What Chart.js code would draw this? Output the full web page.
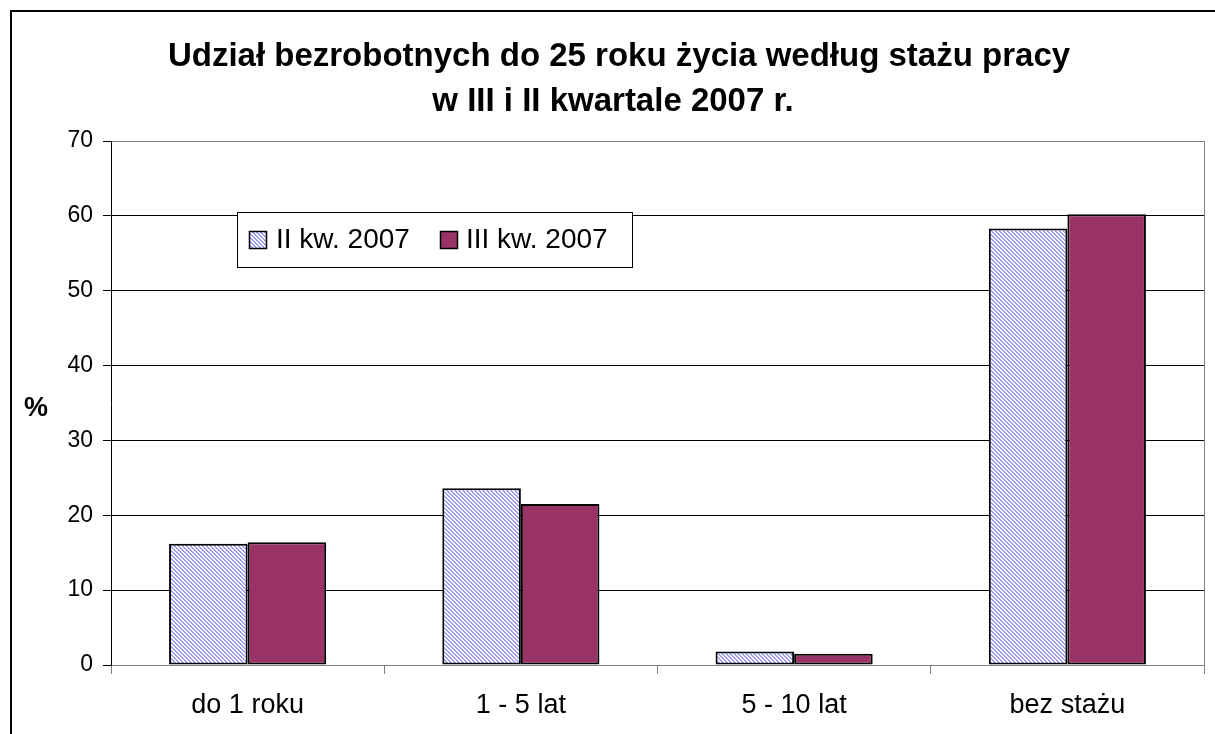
<!DOCTYPE html>
<html>
<head>
<meta charset="utf-8">
<script src="https://cdn.jsdelivr.net/npm/chart.js@4.4.0/dist/chart.umd.min.js"></script>
<style>
  html, body { margin: 0; padding: 0; background: #fff; overflow: hidden; }
  #wrap { position: absolute; left: 0; top: 0; width: 1215px; height: 734px; }
</style>
</head>
<body>
<div id="wrap"><canvas id="chart" width="1215" height="734"></canvas></div>
<script>
const categories = ["do 1 roku", "1 - 5 lat", "5 - 10 lat", "bez stażu"];
const seriesNames = ["II kw. 2007", "III kw. 2007"];
const q2Values = [16.2, 23.6, 1.8, 58.3];
const q3Values = [16.4, 21.5, 1.5, 60.2];
const titleLines = ["Udział bezrobotnych do 25 roku życia według stażu pracy", "w III i II kwartale 2007 r."];
const yTitle = "%";

const FONT = "Arial, 'Liberation Sans'";

// diagonal hatch for II kw.
function makeHatch() {
  const n = 4;
  const c = document.createElement("canvas");
  c.width = n; c.height = n;
  const g = c.getContext("2d");
  g.fillStyle = "#fff";
  g.fillRect(0, 0, n, n);
  g.fillStyle = "#9c9cfa";
  for (let i = 0; i < n; i++) {
    g.fillRect(i, i, 1, 1);
    g.fillRect((i + 1) % n, i, 1, 1);
  }
  return g.createPattern(c, "repeat");
}

const ctx = document.getElementById("chart").getContext("2d");
const hatch = makeHatch();

const decorations = {
  id: "decorations",
  beforeDraw(chart) {
    const c = chart.ctx;
    c.save();
    c.fillStyle = "#fff";
    c.fillRect(0, 0, chart.width, chart.height);
    c.restore();
  },
  afterDraw(chart) {
    const c = chart.ctx;
    const a = chart.chartArea;
    c.save();
    // outer frame
    c.strokeStyle = "#000";
    c.lineWidth = 2;
    c.strokeRect(11, 11, 1230, 750);
    // right border of plot area
    c.strokeStyle = "#808080";
    c.lineWidth = 1;
    c.beginPath();
    c.moveTo(a.right + 0.5, a.top);
    c.lineTo(a.right + 0.5, a.bottom);
    c.stroke();
    // title
    c.fillStyle = "#000";
    c.font = "bold 33px " + FONT;
    c.textAlign = "center";
    c.textBaseline = "middle";
    c.fillText(titleLines[0], 619, 57);
    c.fillText(titleLines[1], 613, 102);
    // y title
    c.font = "bold 27px " + FONT;
    c.fillText(yTitle, 36, 409);
    // legend box
    const lx = 237, ly = 212, lw = 395, lh = 55;
    c.fillStyle = "#fff";
    c.fillRect(lx, ly, lw, lh);
    c.strokeStyle = "#000";
    c.lineWidth = 1;
    c.strokeRect(lx + 0.5, ly + 0.5, lw, lh);
    c.font = "28px " + FONT;
    c.textAlign = "left";
    const items = [
      { x: 249, tx: 276, fill: hatch, label: seriesNames[0] },
      { x: 440, tx: 466, fill: "#993366", label: seriesNames[1] }
    ];
    items.forEach(it => {
      c.fillStyle = it.fill;
      c.fillRect(it.x, 231, 17, 17);
      c.strokeStyle = "#000";
      c.lineWidth = 1.5;
      c.strokeRect(it.x + 0.5, 231.5, 17, 17);
      c.fillStyle = "#000";
      c.fillText(it.label, it.tx, 240);
    });
    c.restore();
  }
};

new Chart(ctx, {
  type: "bar",
  data: {
    labels: categories,
    datasets: [
      { label: seriesNames[0], data: q2Values, backgroundColor: hatch, borderColor: "#000", borderWidth: 2, borderSkipped: false },
      { label: seriesNames[1], data: q3Values, backgroundColor: "#993366", borderColor: "#000", borderWidth: 2, borderSkipped: false }
    ]
  },
  options: {
    responsive: false,
    animation: false,
    layout: { padding: { top: 141, right: 11, bottom: 0, left: 0 } },
    plugins: { legend: { display: false }, title: { display: false }, tooltip: { enabled: false } },
    datasets: { bar: { categoryPercentage: 0.575, barPercentage: 1 } },
    scales: {
      x: {
        afterFit: s => { s.height = 69; },
        grid: { offset: true, drawOnChartArea: false, tickLength: 9, color: "#808080" },
        border: { color: "#808080", width: 1 },
        ticks: { color: "#000", font: { family: FONT, size: 27 }, padding: 15 }
      },
      y: {
        min: 0, max: 70,
        afterFit: s => { s.width = 111; },
        ticks: { stepSize: 10, color: "#000", font: { family: FONT, size: 23 }, padding: 10 },
        grid: { color: ctx => ctx.tick.value === 70 ? "#808080" : "#000", tickLength: 8, tickColor: "#000" },
        border: { color: "#000", width: 1 }
      }
    }
  },
  plugins: [decorations]
});
</script>
</body>
</html>
